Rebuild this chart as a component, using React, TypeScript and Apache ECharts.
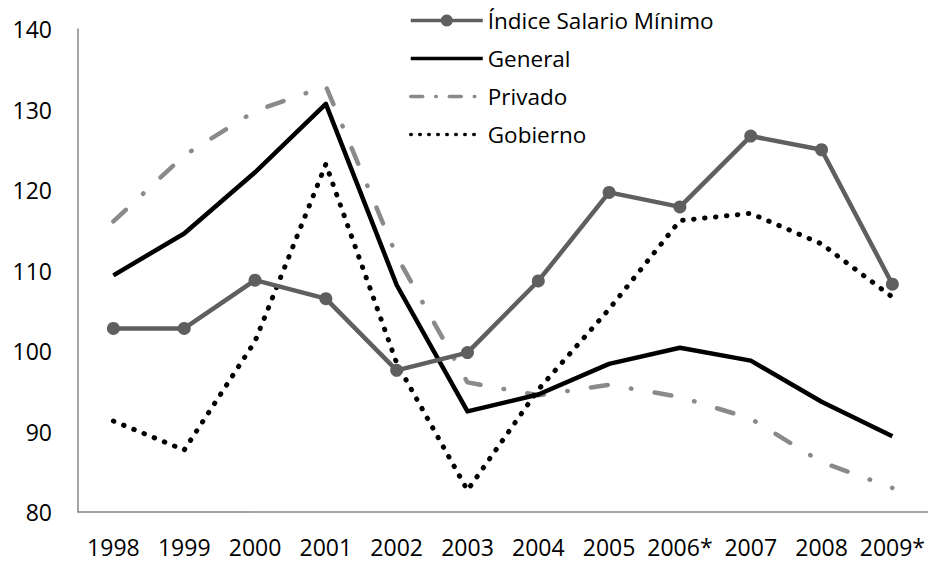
import React, { useEffect, useRef } from "react";
import * as echarts from "echarts";

const categories = ["1998", "1999", "2000", "2001", "2002", "2003", "2004", "2005", "2006*", "2007", "2008", "2009*"];
const indiceSalarioMinimo = [102.8, 102.8, 108.8, 106.5, 97.6, 99.8, 108.7, 119.7, 117.9, 126.7, 125.0, 108.3];
const general = [109.4, 114.6, 122.2, 130.7, 108.2, 92.5, 94.6, 98.4, 100.4, 98.8, 93.7, 89.4];
const privado = [116.1, 124.3, 129.8, 132.9, 111.8, 96.1, 94.5, 95.8, 94.3, 91.6, 86.2, 83.0];
const gobierno = [91.3, 87.7, 101.2, 123.2, 98.5, 82.7, 95.2, 105.2, 116.2, 117.1, 113.3, 106.7];
const yTicks = { min: 80, max: 140, interval: 10 };

const FONT = "'Open Sans', 'Noto Sans', sans-serif";
const C_INDICE = "#5f5f5f";
const C_PRIV = "#8a8a8a";

export default function App() {
  const ref = useRef<HTMLDivElement>(null);
  useEffect(() => {
    if (!ref.current) return;
    const chart = echarts.init(ref.current, undefined, { renderer: "svg" });
    chart.setOption({
      animation: false,
      backgroundColor: "#ffffff",
      textStyle: { fontFamily: FONT },
      grid: { left: 78, right: 0, top: 29, bottom: 55, containLabel: false },
      legend: {
        orient: "vertical",
        left: 404,
        top: 3,
        padding: 5,
        itemWidth: 72,
        itemHeight: 15,
        itemGap: 13,
        textStyle: { fontFamily: FONT, fontSize: 22.5, color: "#000", lineHeight: 25 },
        data: [
          { name: "Índice Salario Mínimo", lineStyle: { width: 3.5 } },
          { name: "General", itemStyle: { opacity: 0 }, lineStyle: { width: 3.5 } },
          {
            name: "Privado",
            itemStyle: { opacity: 0 },
            lineStyle: { width: 3.5, type: [12, 13, 0.5, 13], cap: "round" },
          },
          {
            name: "Gobierno",
            itemStyle: { opacity: 0 },
            lineStyle: { width: 3.5, type: [0.5, 8.5], cap: "round" },
          },
        ],
      },
      xAxis: {
        type: "category",
        data: categories,
        boundaryGap: true,
        axisLine: { lineStyle: { color: "#888888", width: 1.5 } },
        axisTick: { show: false },
        axisLabel: {
          interval: 0,
          color: "#000",
          fontSize: 23,
          fontFamily: FONT,
          margin: 23,
        },
        splitLine: { show: false },
      },
      yAxis: {
        type: "value",
        min: yTicks.min,
        max: yTicks.max,
        interval: yTicks.interval,
        axisLine: { show: true, lineStyle: { color: "#888888", width: 1.5 } },
        axisTick: { show: false },
        axisLabel: { color: "#000", fontSize: 23, fontFamily: FONT, margin: 26 },
        splitLine: { show: false },
      },
      series: [
        {
          name: "Índice Salario Mínimo",
          type: "line",
          data: indiceSalarioMinimo,
          symbol: "circle",
          symbolSize: 13,
          itemStyle: { color: C_INDICE },
          lineStyle: { color: C_INDICE, width: 4.5 },
          z: 5,
        },
        {
          name: "General",
          type: "line",
          data: general,
          showSymbol: false,
          symbol: "none",
          itemStyle: { color: "#000" },
          lineStyle: { color: "#000", width: 4.5, join: "round" },
          z: 4,
        },
        {
          name: "Privado",
          type: "line",
          data: privado,
          showSymbol: false,
          symbol: "none",
          itemStyle: { color: C_PRIV },
          lineStyle: { color: C_PRIV, width: 4.5, type: [17, 23.5, 0.5, 23.5], cap: "round" },
          z: 3,
        },
        {
          name: "Gobierno",
          type: "line",
          data: gobierno,
          showSymbol: false,
          symbol: "none",
          itemStyle: { color: "#000" },
          lineStyle: { color: "#000", width: 5, type: [0.5, 10.5], cap: "round" },
          z: 3,
        },
      ],
    });
    return () => chart.dispose();
  }, []);
  return (
    <div
      ref={ref}
      style={{ position: "fixed", left: 0, top: 0, width: 928, height: 567, background: "#fff" }}
    />
  );
}
